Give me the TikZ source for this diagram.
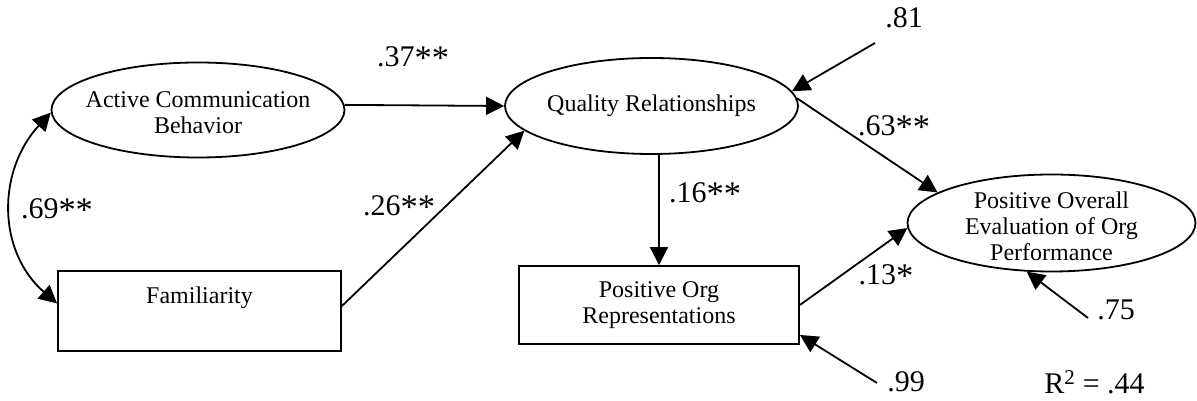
\documentclass[tikz,border=0pt]{standalone}
\usepackage{fontspec}
\setmainfont{Liberation Serif}
\usetikzlibrary{shapes.geometric,arrows.meta}
% significance mark, a little larger than the font's own asterisk
\newcommand\sigmark{\raisebox{-0.1em}{\scalebox{1.15}{*}}}
\begin{document}
\begin{tikzpicture}[x=1pt,y=1pt,
  line width=1.8pt,
  txt/.style={font=\fontsize{24}{26}\selectfont,align=center,inner sep=0pt},
  coef/.style={font=\fontsize{30}{32}\selectfont,inner sep=0pt},
  latent/.style={draw,ellipse,inner sep=0pt},
  observed/.style={draw,rectangle,inner sep=0pt},
  path/.style={-{Triangle[length=18pt,width=18pt]}},
  corr/.style={{Triangle[length=18pt,width=18pt]}-{Triangle[length=18pt,width=18pt]}}]
\useasboundingbox (0,0) rectangle (1197,401);

% constructs
\node[latent,minimum width=293pt,minimum height=95pt,
  label={[txt,yshift=-3pt]center:Active Communication\\Behavior}] (acb) at (198,291) {};
\node[latent,minimum width=293pt,minimum height=96pt,
  label={[txt]center:Quality Relationships}] (qr) at (651.5,295) {};
\node[observed,minimum width=283pt,minimum height=80pt,
  label={[txt,yshift=13pt]center:Familiarity}] (fam) at (199.5,90) {};
\node[observed,minimum width=280pt,minimum height=78pt,
  label={[txt]center:Positive Org\\Representations}] (por) at (659,96) {};
\node[latent,minimum width=288pt,minimum height=97pt,
  label={[txt,yshift=-3pt]center:Positive Overall\\Evaluation of Org\\Performance}] (poe) at (1051.5,178) {};

% error terms
\coordinate (e81) at (875,358);
\coordinate (e99) at (877,18);
\coordinate (e75) at (1088,83);

% structural paths
\draw[path] (acb.2) -- (qr.west);
\draw[path] (fam.2) -- (qr.191);
\draw[path] (qr.south -| por.north) -- (por.north);
\draw[path] (qr.3) -- (poe.165);
\draw[path] (por.east) -- (poe.182);

% residuals
\draw[path] (e81) -- (qr.6);
\draw[path] (e99) -- (por.-12);
\draw[path] (e75) -- (poe.243);

% correlation between exogenous variables
\draw[corr] (acb.181) .. controls (-3,230) and (-3,150) .. (fam.177);

% coefficients
\node[coef] (c37) at (413,343) {.37\sigmark\sigmark};
\node[coef] (c69) at (57,191) {.69\sigmark\sigmark};
\node[coef] (c26) at (399,194) {.26\sigmark\sigmark};
\node[coef] (c16) at (705,207) {.16\sigmark\sigmark};
\node[coef] (c63) at (894,274) {.63\sigmark\sigmark};
\node[coef] (c13) at (886,125) {.13\sigmark};
\node[coef] (c81) at (904,383) {.81};
\node[coef] (c75) at (1116,91) {.75};
\node[coef] (c99) at (906,19) {.99};
\node[coef] (r2) at (1094.5,19) {R\textsuperscript{2} = .44};
\end{tikzpicture}
\end{document}
